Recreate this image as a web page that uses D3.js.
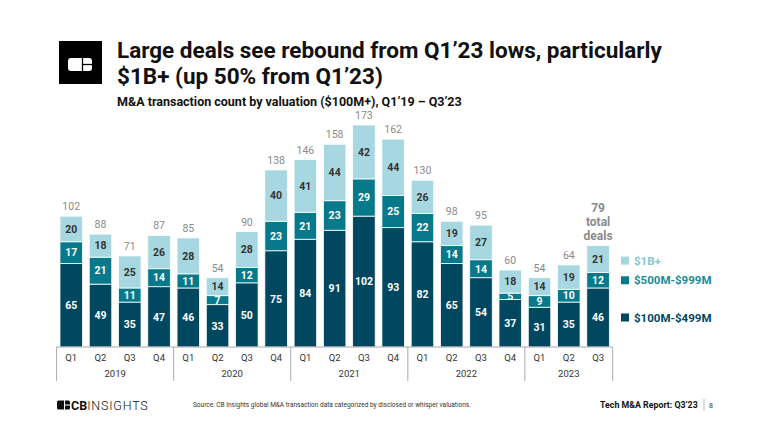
<!DOCTYPE html>
<html><head><meta charset="utf-8">
<script src="https://cdn.jsdelivr.net/npm/d3@7"></script>
<style>
html,body{margin:0;padding:0;background:#fff;}
svg{display:block;font-family:Roboto,"Noto Sans",sans-serif;}
</style></head>
<body>
<svg id="chart" width="770" height="433"></svg>
<script>
const quarters = ["Q1","Q2","Q3","Q4","Q1","Q2","Q3","Q4","Q1","Q2","Q3","Q4","Q1","Q2","Q3","Q4","Q1","Q2","Q3"];
const years = ["2019","2019","2019","2019","2020","2020","2020","2020","2021","2021","2021","2021","2022","2022","2022","2022","2023","2023","2023"];
const small = [65,49,35,47,46,33,50,75,84,91,102,93,82,65,54,37,31,35,46];   // $100M-$499M
const mid   = [17,21,11,14,11,7,12,23,21,23,29,25,22,14,14,5,9,10,12];        // $500M-$999M
const large = [20,18,25,26,28,14,28,40,41,44,42,44,26,19,27,18,14,19,21];     // $1B+
const seriesNames = ["$100M-$499M","$500M-$999M","$1B+"];
const colors = ["#01475f","#06798a","#a7d8e1"];
const legendText = ["#01475f","#1a8a9a","#86c6d2"];
const labelColors = ["#ffffff","#ffffff","#333333"];

const svg = d3.select("#chart");
const keys = d3.range(quarters.length);
const data = keys.map(i => ({i, s0: small[i], s1: mid[i], s2: large[i]}));
const stack = d3.stack().keys(["s0","s1","s2"])(data);

const x = d3.scaleBand().domain(keys).range([56.6, 612.7]).paddingInner(0.23).paddingOuter(0.115);
const y = d3.scaleLinear().domain([0, 173]).range([347, 125]);

// title
svg.append("rect").attr("x",59).attr("y",41).attr("width",43).attr("height",43).attr("fill","#000");
svg.append("rect").attr("x",68).attr("y",58).attr("width",24).attr("height",13).attr("rx",3).attr("fill","#fff");
svg.append("line").attr("x1",82.5).attr("x2",82.5).attr("y1",57).attr("y2",72).attr("stroke","#000").attr("stroke-width",1.3);
svg.append("line").attr("x1",82.5).attr("x2",93).attr("y1",64.5).attr("y2",64.5).attr("stroke","#000").attr("stroke-width",1.3);

svg.append("text").attr("x",117).attr("y",58).attr("font-size",22.5).attr("font-weight",700).attr("fill","#111")
  .text("Large deals see rebound from Q1\u201923 lows, particularly");
svg.append("text").attr("x",117).attr("y",84).attr("font-size",22.5).attr("font-weight",700).attr("fill","#111")
  .text("$1B+ (up 50% from Q1\u201923)");
svg.append("text").attr("x",117).attr("y",106).attr("font-size",12.5).attr("font-weight",700).attr("fill","#111")
  .text("M&A transaction count by valuation ($100M+), Q1\u201919 \u2013 Q3\u201923");

// bars
const g = svg.append("g");
stack.forEach((layer, k) => {
  g.selectAll(null).data(layer).enter().append("rect")
    .attr("x", d => x(d.data.i))
    .attr("width", x.bandwidth())
    .attr("y", d => y(d[1]))
    .attr("height", d => y(d[0]) - y(d[1]))
    .attr("fill", colors[k])
    .attr("stroke","#fff").attr("stroke-width",0.8);
  g.selectAll(null).data(layer).enter().append("text")
    .attr("x", d => x(d.data.i) + x.bandwidth()/2)
    .attr("y", d => (y(d[0]) + y(d[1]))/2)
    .attr("dy","0.36em")
    .attr("text-anchor","middle")
    .attr("font-size",10.5).attr("font-weight",700)
    .attr("fill", labelColors[k])
    .text(d => d[1]-d[0]);
});

// totals
const totals = data.map(d => d.s0 + d.s1 + d.s2);
const last = totals.length - 1;
g.selectAll(null).data(data.filter(d => d.i !== last)).enter().append("text")
  .attr("x", d => x(d.i) + x.bandwidth()/2)
  .attr("y", d => y(totals[d.i]) - 6)
  .attr("text-anchor","middle").attr("font-size",10.5).attr("fill","#8a8a8a")
  .text(d => totals[d.i]);
const lastLines = [String(totals[last]), "total", "deals"];
lastLines.forEach((t, j) => {
  g.append("text")
    .attr("x", x(last) + x.bandwidth()/2)
    .attr("y", y(totals[last]) - 6 - (2 - j) * 13.7)
    .attr("text-anchor","middle").attr("font-size",12).attr("font-weight",700).attr("fill","#8a8a8a")
    .text(t);
});

// axis
const axisY = 347;
const ax = svg.append("g");
ax.append("line").attr("x1", x.range()[0]).attr("x2", x.range()[1]).attr("y1",axisY).attr("y2",axisY)
  .attr("stroke","#aaa").attr("stroke-width",1);
ax.selectAll(null).data(keys).enter().append("text")
  .attr("x", i => x(i) + x.bandwidth()/2).attr("y", 358).attr("dy","0.35em")
  .attr("text-anchor","middle").attr("font-size",9.5).attr("fill","#333")
  .text(i => quarters[i]);
const yearGroups = d3.groups(keys, i => years[i]);
const step = x.step();
const bounds = [];
yearGroups.forEach(([yr, idx]) => {
  const x0 = x(idx[0]) - (step - x.bandwidth())/2;
  const x1 = x(idx[idx.length-1]) + x.bandwidth() + (step - x.bandwidth())/2;
  bounds.push(x0, x1);
  ax.append("text").attr("x",(x0+x1)/2).attr("y",374).attr("dy","0.35em")
    .attr("text-anchor","middle").attr("font-size",9.5).attr("fill","#333").text(yr);
});
Array.from(new Set(bounds.map(b => b.toFixed(2)))).forEach(b => {
  ax.append("line").attr("x1",+b).attr("x2",+b).attr("y1",axisY).attr("y2",381)
    .attr("stroke","#aaa").attr("stroke-width",1);
});

// legend aligned with last bar segments
const lg = svg.append("g");
const lastStack = stack.map(layer => layer[last]);
const legendY = [ (y(lastStack[0][0])+y(lastStack[0][1]))/2, (y(lastStack[1][0])+y(lastStack[1][1]))/2, (y(lastStack[2][0])+y(lastStack[2][1]))/2 + 1.5 ];
seriesNames.forEach((n, k) => {
  lg.append("rect").attr("x",621).attr("y",legendY[k]-4).attr("width",8).attr("height",8).attr("fill",colors[k]);
  lg.append("text").attr("x",634).attr("y",legendY[k]).attr("dy","0.36em").attr("font-size",11.5)
    .attr("font-weight",700).attr("fill",legendText[k]).text(n);
});

// footer
const f = svg.append("g");
f.append("rect").attr("x",57).attr("y",400.5).attr("width",13).attr("height",9).attr("rx",1.5).attr("fill","#111");
f.append("line").attr("x1",64.5).attr("x2",64.5).attr("y1",400).attr("y2",410).attr("stroke","#fff").attr("stroke-width",1);
f.append("line").attr("x1",64.5).attr("x2",70.5).attr("y1",405).attr("y2",405).attr("stroke","#fff").attr("stroke-width",1);
f.append("text").attr("x",71).attr("y",409.5).attr("font-size",12.5).attr("fill","#111")
  .html('<tspan font-weight="700">CB</tspan><tspan font-weight="300" letter-spacing="0.8">INSIGHTS</tspan>');
f.append("text").attr("x",193).attr("y",407).attr("font-size",6.5).attr("fill","#333")
  .text("Source: CB Insights global M&A transaction data categorized by disclosed or whisper valuations.");
f.append("text").attr("x",600).attr("y",408).attr("font-size",8.8).attr("font-weight",700).attr("fill","#111")
  .text("Tech M&A Report: Q3\u201923");
f.append("line").attr("x1",704).attr("x2",704).attr("y1",399).attr("y2",411).attr("stroke","#aaa").attr("stroke-width",0.8);
f.append("text").attr("x",709).attr("y",408).attr("font-size",7).attr("fill","#333").text("8");
</script>
</body></html>
